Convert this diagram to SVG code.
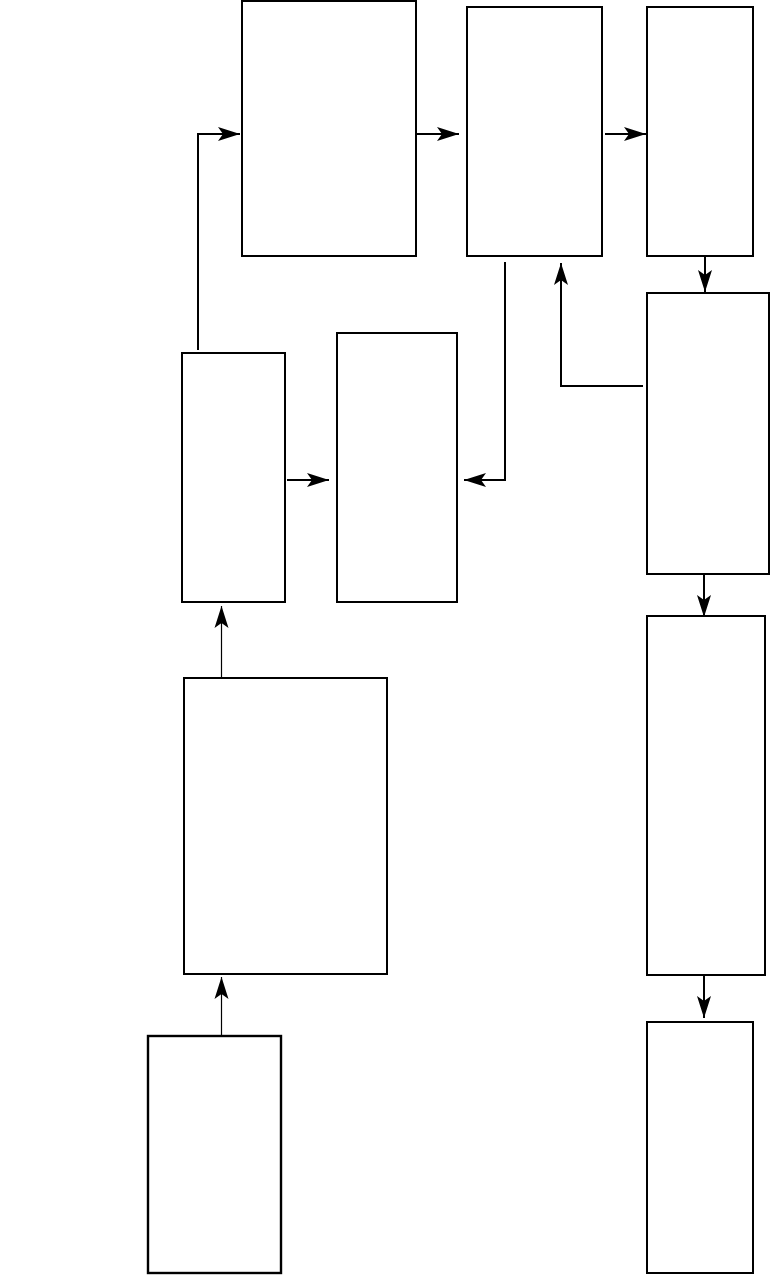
<svg xmlns="http://www.w3.org/2000/svg" width="770" height="1275" viewBox="0 0 770 1275">
<style>
.box{fill:#fff;stroke:#000;stroke-width:2}
.c{fill:none;stroke:#000;stroke-width:2}
.t{fill:none;stroke:#000;stroke-width:1.2}
</style>
<defs>
<marker id="ah" markerUnits="userSpaceOnUse" markerWidth="24" markerHeight="16" refX="22" refY="8" orient="auto">
<path d="M0,1 L22,8 L0,15 L5,8 Z" fill="#000"/>
</marker>
</defs>
<rect width="770" height="1275" fill="#fff"/>
<g id="nodeA"><rect class="box" x="242" y="1" width="174" height="255"/></g>
<g id="nodeB"><rect class="box" x="467" y="7" width="135" height="249"/></g>
<g id="nodeC"><rect class="box" x="647" y="7" width="106" height="249"/></g>
<g id="nodeD"><rect class="box" x="647" y="293" width="122" height="281"/></g>
<g id="nodeE"><rect class="box" x="647" y="616" width="118" height="359"/></g>
<g id="nodeF"><rect class="box" x="647" y="1022" width="106" height="251"/></g>
<g id="nodeG"><rect class="box" x="182" y="353" width="103" height="249"/></g>
<g id="nodeH"><rect class="box" x="337" y="333" width="120" height="269"/></g>
<g id="nodeI"><rect class="box" x="184" y="678" width="203" height="296"/></g>
<g id="nodeJ"><rect class="box" x="148" y="1036" width="133" height="237" style="stroke-width:2.4"/></g>
<g id="connectors">
<path class="c" d="M198,350 L198,134 L240,134" marker-end="url(#ah)"/>
<path class="c" d="M416,134 L459,134" marker-end="url(#ah)"/>
<path class="c" d="M605,134 L646,134" marker-end="url(#ah)"/>
<path class="c" d="M705,256 L705,292" marker-end="url(#ah)"/>
<path class="c" d="M643,386 L561,386 L561,263" marker-end="url(#ah)"/>
<path class="c" d="M505,262 L505,480 L464,480" marker-end="url(#ah)"/>
<path class="c" d="M287,480 L329,480" marker-end="url(#ah)"/>
<path class="c" d="M704,574 L704,617" marker-end="url(#ah)"/>
<path class="c" d="M704,975 L704,1018" marker-end="url(#ah)"/>
<path class="t" d="M221.5,678 L221.5,606" marker-end="url(#ah)"/>
<path class="t" d="M221.5,1036 L221.5,977" marker-end="url(#ah)"/>
</g>
</svg>
